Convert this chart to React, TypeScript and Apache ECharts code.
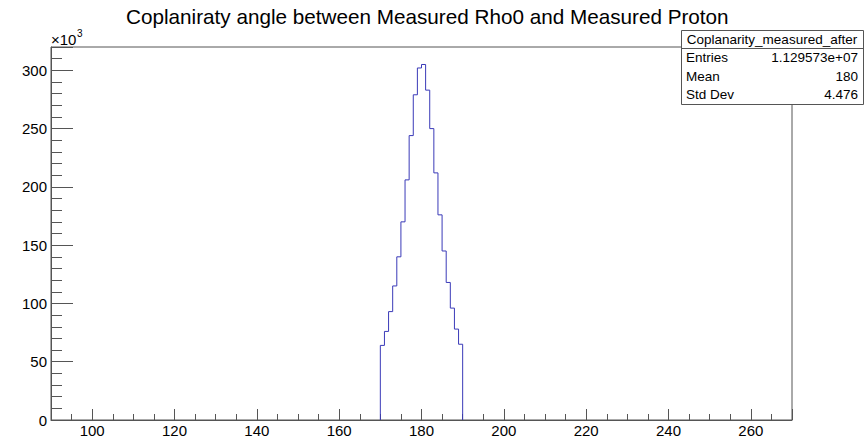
import React, { useEffect, useRef } from "react";
import * as echarts from "echarts";

// ---- data ----
const chartTitle = "Coplaniraty angle between Measured Rho0 and Measured Proton";
const binLowEdges = [170, 171, 172, 173, 174, 175, 176, 177, 178, 179, 180, 181, 182, 183, 184, 185, 186, 187, 188, 189];
const binWidth = 1;
// counts in units of 10^3
const binCounts = [64, 76, 93, 115, 140, 170, 206, 244, 279, 302, 305, 283, 250, 212, 176, 145, 118, 96, 78, 65];
const xRange = [90, 270];
const yRange = [0, 320];
const statsName = "Coplanarity_measured_after";
const statsLabels = ["Entries", "Mean", "Std Dev"];
const statsValues = ["1.129573e+07", "180", "4.476"];

const FONT = "Liberation Sans, Arial, Helvetica, sans-serif";
const AXIS = "#555555";
const HIST = "#3a3ab8";

export default function App() {
  const ref = useRef<HTMLDivElement>(null);
  useEffect(() => {
    if (!ref.current) return;
    const chart = echarts.init(ref.current, undefined, { renderer: "svg" });

    const points: number[][] = [[binLowEdges[0], 0]];
    binLowEdges.forEach((lo, i) => {
      points.push([lo, binCounts[i]]);
      points.push([lo + binWidth, binCounts[i]]);
    });
    points.push([binLowEdges[binLowEdges.length - 1] + binWidth, 0]);

    const boxL = 681, boxR = 863, boxT = 30, boxSep = 48, boxB = 104;
    const rowH = (boxB - boxSep) / statsLabels.length;
    const statTexts: any[] = [];
    statsLabels.forEach((lab, i) => {
      const cy = boxSep + rowH * (i + 0.5);
      statTexts.push({
        type: "text", x: boxL + 5, y: cy, z: 101,
        style: { text: lab, font: `13.5px ${FONT}`, fill: "#000", textAlign: "left", textVerticalAlign: "middle" },
      });
      statTexts.push({
        type: "text", x: boxR - 5, y: cy, z: 101,
        style: { text: statsValues[i], font: `13.5px ${FONT}`, fill: "#000", textAlign: "right", textVerticalAlign: "middle" },
      });
    });

    chart.setOption({
      animation: false,
      backgroundColor: "#ffffff",
      title: {
        text: chartTitle,
        left: 121,
        top: 1,
        textStyle: { fontFamily: FONT, fontSize: 20.7, fontWeight: "normal", color: "#000" },
      },
      grid: { left: 51, right: 75, top: 47, bottom: 17, show: true, borderColor: AXIS, borderWidth: 1, backgroundColor: "transparent" },
      xAxis: {
        type: "value",
        min: xRange[0],
        max: xRange[1],
        splitNumber: 9,
        axisLine: { show: true, onZero: false, lineStyle: { color: AXIS, width: 1 } },
        axisTick: { show: true, inside: true, length: 11, lineStyle: { color: AXIS } },
        minorTick: { show: true, splitNumber: 4, length: 6, lineStyle: { color: AXIS } },
        splitLine: { show: false },
        minorSplitLine: { show: false },
        axisLabel: { fontFamily: FONT, fontSize: 15, color: "#000", margin: 3, showMinLabel: false, showMaxLabel: false },
      },
      yAxis: {
        type: "value",
        min: yRange[0],
        max: yRange[1],
        interval: 50,
        axisLine: { show: true, lineStyle: { color: AXIS, width: 1 } },
        axisTick: { show: true, inside: true, length: 22, lineStyle: { color: AXIS } },
        minorTick: { show: true, splitNumber: 5, length: 11, lineStyle: { color: AXIS } },
        splitLine: { show: false },
        minorSplitLine: { show: false },
        axisLabel: { fontFamily: FONT, fontSize: 15, color: "#000", margin: 4, showMaxLabel: false },
      },
      series: [
        {
          type: "line",
          data: points,
          symbol: "none",
          showSymbol: false,
          silent: true,
          lineStyle: { color: HIST, width: 1 },
        },
      ],
      graphic: [
        { type: "text", x: 51, y: 39, z: 100, style: { text: "×10", font: `15px ${FONT}`, fill: "#000", textAlign: "left", textVerticalAlign: "middle" } },
        { type: "text", x: 77, y: 33, z: 100, style: { text: "3", font: `10px ${FONT}`, fill: "#000", textAlign: "left", textVerticalAlign: "middle" } },
        { type: "rect", z: 100, shape: { x: boxL + 0.5, y: boxT + 0.5, width: boxR - boxL, height: boxB - boxT }, style: { fill: "#fff", stroke: AXIS, lineWidth: 1 } },
        { type: "line", z: 101, shape: { x1: boxL, y1: boxSep + 0.5, x2: boxR, y2: boxSep + 0.5 }, style: { stroke: AXIS, lineWidth: 1 } },
        {
          type: "text", x: (boxL + boxR) / 2, y: (boxT + boxSep) / 2 + 0.5, z: 101,
          style: { text: statsName, font: `13.5px ${FONT}`, fill: "#000", textAlign: "center", textVerticalAlign: "middle" },
        },
        ...statTexts,
      ],
    });
    return () => chart.dispose();
  }, []);
  return <div ref={ref} style={{ position: "fixed", left: 0, top: 0, width: 867, height: 438, background: "#fff" }} />;
}
